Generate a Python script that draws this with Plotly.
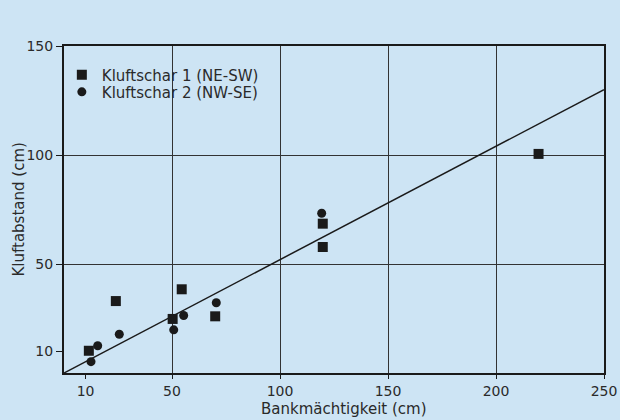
import plotly.graph_objects as go

# Kluftschar 1 (NE-SW) - squares
k1_x = [11.5, 24, 50.3, 54.5, 70, 119.8, 119.8, 219.7]
k1_y = [10.2, 33, 24.8, 38.4, 26, 68.5, 57.8, 100.5]
# Kluftschar 2 (NW-SE) - circles
k2_x = [12.5, 15.6, 25.6, 50.8, 55.4, 70.5, 119.3]
k2_y = [5.2, 12.5, 17.8, 19.8, 26.4, 32.2, 73.3]
# regression line
line_x = [0, 250]
line_y = [0, 130]

x_ticks = [10, 50, 100, 150, 200, 250]
y_ticks = [10, 50, 100, 150]
x_grid = [50, 100, 150, 200]
y_grid = [50, 100]

x_title = "Bankmächtigkeit (cm)"
y_title = "Kluftabstand (cm)"

bg = "#cde4f4"
ink = "#1a1a1a"
tick_font = dict(family="DejaVu Sans", size=14, color="#2a2a2a")
text_font = dict(family="DejaVu Sans", size=15, color="#2a2a2a")

fig = go.Figure()
fig.add_trace(go.Scatter(x=line_x, y=line_y, mode="lines",
                         line=dict(color=ink, width=1.5), showlegend=False,
                         hoverinfo="skip"))
fig.add_trace(go.Scatter(x=k1_x, y=k1_y, mode="markers", name="Kluftschar 1 (NE-SW)",
                         marker=dict(symbol="square", size=10, color=ink),
                         legend="legend"))
fig.add_trace(go.Scatter(x=k2_x, y=k2_y, mode="markers", name="Kluftschar 2 (NW-SE)",
                         marker=dict(symbol="circle", size=9, color=ink),
                         legend="legend2"))

axis_common = dict(
    showline=True, linecolor=ink, linewidth=2, mirror=True,
    ticks="outside", tickwidth=1, tickcolor=ink,
    showgrid=False, zeroline=False, tickfont=tick_font, automargin=False,
)
fig.update_xaxes(range=[0, 250], tickmode="array", tickvals=x_ticks,
                 ticklabelstandoff=0, ticklen=4,
                 minor=dict(tickmode="array", tickvals=x_grid, showgrid=True,
                            gridcolor="#333333", gridwidth=1, ticks=""),
                 **axis_common)
fig.update_yaxes(range=[0, 150], tickmode="array", tickvals=y_ticks, ticklen=6,
                 minor=dict(tickmode="array", tickvals=y_grid, showgrid=True,
                            gridcolor="#333333", gridwidth=1, ticks=""),
                 **axis_common)

fig.add_annotation(text=x_title, xref="paper", yref="paper", x=0.5, y=0,
                   xanchor="center", yanchor="middle", xshift=10, yshift=-36,
                   showarrow=False, font=text_font)
fig.add_annotation(text=y_title, xref="paper", yref="paper", x=0, y=0.5,
                   xanchor="center", yanchor="middle", xshift=-46, textangle=-90,
                   showarrow=False, font=text_font)

leg_common = dict(x=-0.004, xanchor="left", yanchor="middle",
                  bgcolor="rgba(0,0,0,0)", font=text_font)
fig.update_layout(
    width=620, height=420,
    margin=dict(l=64, r=16, t=46, b=47),
    paper_bgcolor=bg, plot_bgcolor=bg,
    font=text_font,
    legend=dict(y=0.911, **leg_common),
    legend2=dict(y=0.859, **leg_common),
)

fig.write_html("out.html", config={"displayModeBar": False},
               post_script="document.body.style.margin='0';"
                           "document.body.style.background='%s';" % bg)
